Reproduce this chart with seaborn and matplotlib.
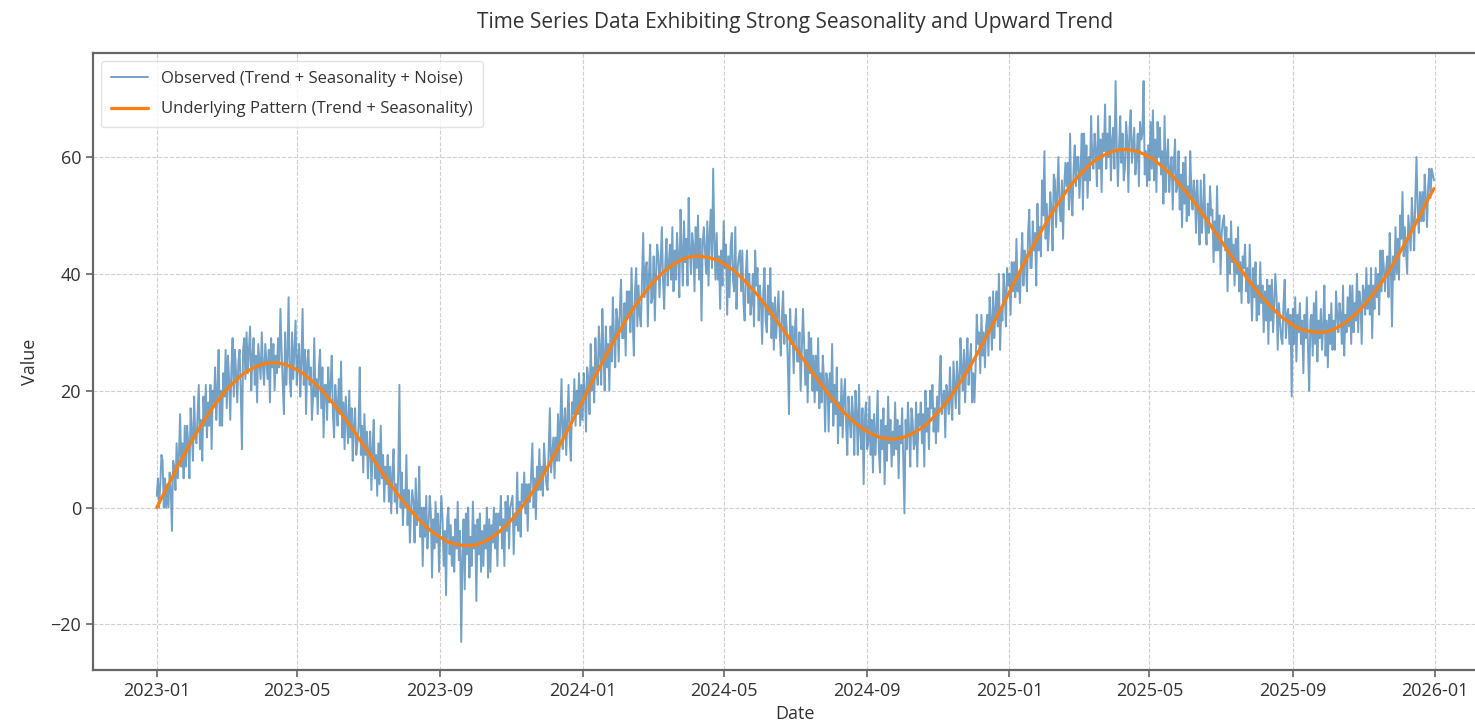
import matplotlib
matplotlib.use("Agg")
import matplotlib.pyplot as plt
import matplotlib.dates as mdates
import pandas as pd
import seaborn as sns

# Daily observations, one list per calendar year
obs_2023 = [
    2, 5, 0, 4, 9, 8, 0, 5, 0, 4, 0, 6, 3, -4, 8, 7, 3, 11, 5, 9,
    16, 7, 11, 5, 14, 7, 14, 11, 5, 17, 13, 8, 19, 12, 11, 16, 21, 10, 15, 8,
    19, 14, 21, 12, 18, 14, 21, 10, 20, 18, 24, 15, 20, 27, 14, 20, 14, 23, 19, 27,
    17, 26, 22, 15, 24, 29, 19, 27, 23, 18, 25, 27, 20, 10, 27, 29, 22, 30, 23, 27,
    31, 20, 26, 29, 21, 26, 18, 28, 25, 22, 30, 24, 21, 28, 25, 22, 27, 18, 29, 24,
    28, 20, 26, 23, 29, 24, 34, 27, 21, 16, 30, 21, 26, 36, 22, 19, 30, 22, 27, 32,
    21, 25, 28, 19, 25, 34, 21, 27, 16, 25, 27, 21, 24, 15, 19, 29, 19, 22, 16, 24,
    27, 17, 24, 12, 21, 21, 15, 24, 18, 21, 26, 16, 12, 21, 18, 14, 22, 16, 25, 12,
    18, 10, 19, 15, 11, 20, 12, 17, 8, 14, 17, 9, 11, 14, 24, 9, 14, 6, 16, 9,
    13, 5, 10, 13, 3, 10, 15, 5, 9, 2, 11, 4, 14, 5, 9, 1, 7, 4, 9, 1,
    7, -1, 6, 10, 1, 4, -1, 6, 21, 0, 6, -3, 3, 0, 9, -3, 3, -6, 0, 3,
    1, -6, 5, -3, -1, 7, -5, 0, -10, 0, -5, 2, -7, -3, 2, -1, -12, -2, -7, 1,
    -6, -1, -11, -3, 2, -2, -10, -4, -15, -2, 0, -8, -3, -10, -5, -11, -2, -7, 1, -9,
    -4, -23, -9, -2, -14, -1, -8, 0, -12, -5, -10, 1, -7, -3, -16, -2, -8, -1, -11, -4,
    -10, -3, -7, 0, -12, -2, -11, -3, -6, 0, -7, -1, -10, -1, -3, 2, -7, -2, -10, 1,
    -4, 2, -7, 0, 1, 2, -8, -1, -3, 6, -4, 1, -5, 4, 1, 6, -1, 4, -4, 4,
    1, 6, 11, 0, 5, -2, 7, 3, 10, 3, 7, 2, 11, 7, 4, 3, 10, 17, 6, 9,
    12, 5, 12, 8, 16, 8, 15, 22, 10, 14, 17, 9, 15, 21, 12, 8, 18, 16, 22, 14,
    20, 16, 23, 14, 21,
]
obs_2024 = [
    15, 23, 20, 13, 24, 22, 16, 28, 20, 24, 18, 29, 24, 21, 31, 27, 21, 34, 26, 20,
    31, 24, 28, 20, 31, 25, 36, 29, 24, 34, 32, 25, 34, 39, 29, 29, 35, 26, 37, 33,
    37, 30, 41, 32, 26, 37, 41, 31, 38, 33, 31, 39, 47, 36, 41, 42, 31, 40, 45, 35,
    36, 43, 32, 40, 45, 43, 36, 42, 48, 39, 34, 42, 46, 38, 42, 45, 39, 48, 37, 44,
    39, 47, 43, 36, 51, 44, 38, 49, 42, 46, 38, 53, 44, 40, 47, 45, 37, 48, 41, 50,
    39, 46, 32, 45, 48, 44, 40, 49, 38, 47, 51, 41, 58, 46, 39, 47, 39, 43, 34, 44,
    38, 49, 41, 45, 33, 43, 36, 45, 47, 39, 37, 48, 34, 41, 43, 44, 37, 44, 35, 32,
    40, 44, 35, 40, 33, 35, 40, 31, 44, 38, 41, 32, 38, 35, 28, 37, 41, 32, 30, 38,
    33, 41, 29, 35, 27, 36, 29, 33, 37, 30, 26, 33, 37, 28, 33, 31, 25, 16, 34, 28,
    31, 23, 30, 34, 25, 25, 30, 20, 27, 34, 28, 21, 27, 18, 30, 23, 29, 20, 26, 18,
    26, 20, 29, 17, 23, 18, 26, 22, 13, 23, 22, 13, 23, 18, 28, 14, 21, 16, 24, 11,
    18, 14, 22, 12, 19, 22, 14, 9, 19, 15, 12, 19, 16, 9, 20, 16, 9, 21, 13, 10,
    17, 4, 15, 18, 10, 11, 19, 9, 15, 6, 16, 9, 13, 20, 10, 6, 15, 10, 17, 4,
    14, 8, 19, 11, 15, 7, 13, 9, 18, 10, 15, 5, 14, 11, 17, 8, -1, 15, 10, 18,
    13, 7, 17, 15, 10, 11, 18, 7, 16, 14, 18, 11, 16, 7, 20, 13, 17, 10, 20, 17,
    21, 13, 17, 11, 19, 13, 21, 26, 16, 19, 20, 12, 21, 19, 16, 24, 18, 15, 25, 21,
    17, 25, 22, 16, 29, 24, 20, 27, 18, 25, 29, 21, 25, 28, 18, 23, 18, 24, 33, 28,
    30, 23, 33, 26, 30, 24, 31, 33, 26, 36, 32, 27, 37, 29, 34, 37, 31, 40, 27, 34,
    32, 40, 37, 31, 41, 38,
]
obs_2025 = [
    40, 33, 42, 37, 42, 36, 46, 37, 40, 35, 42, 47, 38, 44, 43, 37, 47, 51, 41,
    41, 49, 44, 47, 38, 52, 44, 48, 43, 56, 50, 61, 46, 52, 44, 48, 54, 51, 44, 57,
    56, 48, 54, 60, 51, 49, 56, 46, 55, 59, 55, 59, 51, 64, 53, 50, 58, 62, 55, 60,
    60, 53, 58, 64, 51, 64, 56, 62, 53, 60, 56, 67, 60, 58, 64, 61, 55, 67, 58, 63,
    54, 64, 61, 69, 58, 64, 60, 67, 56, 63, 65, 58, 73, 62, 55, 62, 67, 59, 64, 56,
    58, 66, 63, 54, 65, 68, 59, 62, 65, 57, 60, 64, 55, 66, 63, 64, 73, 57, 61, 55,
    62, 56, 66, 58, 68, 56, 63, 54, 66, 60, 65, 57, 61, 52, 67, 54, 60, 63, 54, 58,
    60, 51, 59, 63, 54, 55, 61, 51, 57, 48, 59, 52, 60, 49, 55, 50, 61, 54, 51, 56,
    54, 47, 56, 51, 45, 56, 47, 51, 57, 48, 45, 52, 47, 55, 50, 51, 42, 49, 44, 55,
    44, 50, 40, 47, 49, 50, 44, 48, 37, 46, 40, 49, 42, 45, 38, 46, 40, 48, 37, 42,
    35, 43, 41, 45, 37, 41, 35, 45, 38, 32, 41, 36, 42, 32, 38, 33, 42, 35, 38, 30,
    37, 32, 39, 28, 38, 32, 39, 30, 35, 40, 36, 27, 35, 32, 29, 28, 35, 39, 29, 33,
    34, 28, 33, 19, 34, 28, 36, 25, 33, 30, 35, 28, 32, 23, 33, 29, 36, 27, 20, 32,
    33, 26, 35, 28, 37, 25, 32, 29, 34, 27, 31, 38, 26, 32, 24, 33, 28, 35, 27, 32,
    27, 37, 33, 30, 35, 33, 28, 38, 26, 33, 30, 36, 31, 38, 28, 38, 30, 35, 32, 40,
    30, 37, 35, 28, 38, 37, 33, 41, 34, 38, 33, 41, 29, 38, 34, 41, 36, 40, 33, 44,
    37, 44, 41, 37, 41, 43, 36, 47, 41, 31, 43, 39, 48, 40, 46, 39, 50, 46, 54, 43,
    48, 44, 40, 50, 47, 44, 53, 49, 44, 53, 60, 51, 47, 54, 49, 54, 49, 57, 53, 48,
    55, 58, 53, 58, 57, 56,
]

# Underlying trend + seasonal component, sampled every 5 days
pattern_2023 = [
    0.0, 2.0, 3.9, 5.9, 7.8, 9.6, 11.4, 13.1, 14.7, 16.2, 17.7, 19.0, 20.2, 21.2, 22.2,
    23.0, 23.6, 24.1, 24.5, 24.7, 24.8, 24.7, 24.5, 24.1, 23.6, 23.0, 22.2, 21.3, 20.4,
    19.3, 18.1, 16.9, 15.6, 14.2, 12.8, 11.3, 9.9, 8.4, 6.9, 5.5, 4.1, 2.7, 1.4, 0.1,
    -1.0, -2.1, -3.1, -4.0, -4.7, -5.3, -5.9, -6.2, -6.4, -6.5, -6.5, -6.3, -5.9, -5.4,
    -4.7, -3.9, -3.0, -1.9, -0.7, 0.6, 2.0, 3.5, 5.2, 6.9, 8.7, 10.5, 12.4, 14.3, 16.3,
]
pattern_2024 = [
    18.2, 20.2, 22.2, 24.1, 26.0, 27.8, 29.6, 31.3, 33.0, 34.5, 35.9, 37.2, 38.4, 39.5,
    40.4, 41.2, 41.9, 42.4, 42.8, 43.0, 43.0, 42.9, 42.7, 42.4, 41.9, 41.2, 40.5, 39.6,
    38.6, 37.5, 36.4, 35.1, 33.8, 32.4, 31.0, 29.6, 28.1, 26.6, 25.2, 23.7, 22.3, 21.0,
    19.6, 18.4, 17.2, 16.1, 15.2, 14.3, 13.5, 12.9, 12.4, 12.0, 11.8, 11.7, 11.8, 12.0,
    12.4, 12.9, 13.5, 14.3, 15.3, 16.3, 17.5, 18.8, 20.3, 21.8, 23.4, 25.1, 26.9, 28.8,
    30.6, 32.6, 34.5,
]
pattern_2025 = [
    36.5, 38.5, 40.4, 42.4, 44.3, 46.1, 47.9, 49.6, 51.2, 52.7, 54.2, 55.5, 56.7, 57.7,
    58.7, 59.5, 60.1, 60.6, 61.0, 61.2, 61.3, 61.2, 61.0, 60.6, 60.1, 59.5, 58.7, 57.8,
    56.9, 55.8, 54.6, 53.4, 52.1, 50.7, 49.3, 47.8, 46.4, 44.9, 43.4, 42.0, 40.6, 39.2,
    37.9, 36.6, 35.5, 34.4, 33.4, 32.5, 31.8, 31.1, 30.6, 30.3, 30.1, 30.0, 30.0, 30.2,
    30.6, 31.1, 31.8, 32.6, 33.5, 34.6, 35.8, 37.1, 38.5, 40.0, 41.7, 43.4, 45.2, 47.0,
    48.9, 50.8, 52.8, 54.6,
]

obs_df = pd.DataFrame({
    "Date": pd.date_range("2023-01-01", "2025-12-31", freq="D"),
    "Value": obs_2023 + obs_2024 + obs_2025,
})
pattern_values = pattern_2023 + pattern_2024 + pattern_2025
pat_df = pd.DataFrame({
    "Date": pd.date_range("2023-01-01", periods=len(pattern_values), freq="5D"),
    "Value": pattern_values,
})

sns.set_style("ticks")
plt.rcParams["font.family"] = ["Open Sans", "DejaVu Sans"]
text_color = "#333333"

fig = plt.figure(figsize=(14.75, 7.27), dpi=100)
ax = fig.add_axes([0.063, 0.0784, 0.9525, 0.8487])

sns.lineplot(data=obs_df, x="Date", y="Value", ax=ax, color="steelblue",
             alpha=0.75, linewidth=1.4,
             label="Observed (Trend + Seasonality + Noise)")
sns.lineplot(data=pat_df, x="Date", y="Value", ax=ax, color="#ff7f0e",
             linewidth=2.3,
             label="Underlying Pattern (Trend + Seasonality)")

pad = pd.Timedelta(days=54.75)
ax.set_xlim(obs_df["Date"].iloc[0] - pad, obs_df["Date"].iloc[-1] + pad)
ax.xaxis.set_major_locator(mdates.MonthLocator(bymonth=[1, 5, 9]))
ax.xaxis.set_major_formatter(mdates.DateFormatter("%Y-%m"))
ax.set_yticks([-20, 0, 20, 40, 60])

ax.grid(True, linestyle="--", color="#d0d0d0", linewidth=0.8)
for sp in ax.spines.values():
    sp.set_color("#666666")
    sp.set_linewidth(1.6)
ax.tick_params(axis="both", labelsize=13, length=5, width=1.2,
               colors="#666666", labelcolor=text_color)

ax.set_title("Time Series Data Exhibiting Strong Seasonality and Upward Trend",
             fontsize=15, color=text_color, pad=18)
ax.set_xlabel("Date", fontsize=13, color=text_color, labelpad=4)
ax.set_ylabel("Value", fontsize=13, color=text_color, labelpad=8)

leg = ax.legend(loc="upper left", fontsize=12, frameon=True, fancybox=True,
                borderaxespad=0.5, handlelength=2.2, labelspacing=0.85,
                handletextpad=0.8, borderpad=0.6)
leg.get_frame().set_edgecolor("#dddddd")
for t in leg.get_texts():
    t.set_color(text_color)

fig.savefig("out.png", dpi=100)
